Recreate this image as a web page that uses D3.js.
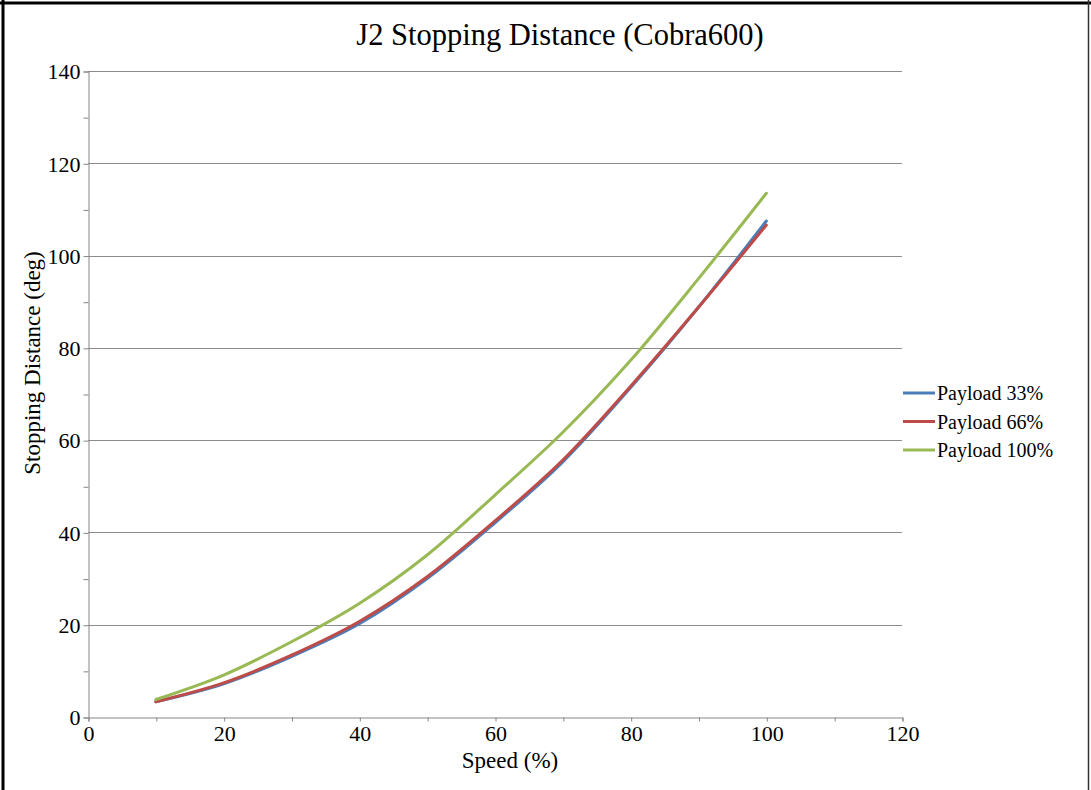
<!DOCTYPE html>
<html><head><meta charset="utf-8">
<script src="https://cdn.jsdelivr.net/npm/d3@7"></script>
<style>body{margin:0;background:#fff;} svg{display:block;}</style>
</head><body>
<svg id="chart" width="1091" height="790"></svg>
<script>
const speeds = [10, 20, 30, 40, 50, 60, 70, 80, 90, 100];
const payload33 = [3.3, 7.2, 13.1, 20.2, 30.0, 42.1, 55.3, 71.4, 88.8, 107.5];
const payload66 = [3.3, 7.4, 13.4, 20.7, 30.4, 42.5, 55.7, 71.7, 88.8, 106.6];
const payload100 = [3.8, 9.1, 16.3, 24.6, 35.1, 48.1, 61.7, 77.3, 95.0, 113.5];
const seriesNames = ["Payload 33%", "Payload 66%", "Payload 100%"];
const seriesColors = ["#4A7EBB", "#BE4B48", "#98B954"];
const xTicks = [0, 20, 40, 60, 80, 100, 120];
const yTicks = [0, 20, 40, 60, 80, 100, 120, 140];
const titleText = "J2 Stopping Distance (Cobra600)";
const xLabel = "Speed (%)";
const yLabel = "Stopping Distance (deg)";

const seriesValues = [payload33, payload66, payload100];
const svg = d3.select("#chart");
const font = "'Liberation Serif', 'DejaVu Serif', serif";
const L = 88, R = 902, T = 71, B = 717;
const x = d3.scaleLinear().domain([0, 120]).range([L, R]);
const y = d3.scaleLinear().domain([0, 140]).range([B, T]);

// frame
svg.append("line").attr("x1", 3).attr("y1", 0).attr("x2", 3).attr("y2", 790).attr("stroke", "#000").attr("stroke-width", 3);
svg.append("line").attr("x1", 0).attr("y1", 3).attr("x2", 1091).attr("y2", 3).attr("stroke", "#000").attr("stroke-width", 3);
svg.append("line").attr("x1", 1088.5).attr("y1", 0).attr("x2", 1088.5).attr("y2", 790).attr("stroke", "#333").attr("stroke-width", 1.5);

// gridlines
svg.append("g").selectAll("line").data(yTicks.filter(d => d > 0)).join("line")
  .attr("x1", L).attr("x2", R).attr("y1", d => Math.round(y(d)) + 0.5).attr("y2", d => Math.round(y(d)) + 0.5)
  .attr("stroke", "#8c8c8c").attr("stroke-width", 1);

// y axis
const yAxis = d3.axisLeft(y).tickValues(d3.range(0, 141, 10)).tickSize(5).tickFormat(d => yTicks.includes(d) ? d : "");
const gy = svg.append("g").attr("transform", `translate(${L + 0.5},0.5)`).call(yAxis);
gy.select(".domain").attr("stroke", "#868686");
gy.selectAll(".tick line").attr("stroke", "#868686");
gy.selectAll("text").attr("font-family", font).attr("font-size", 22).attr("fill", "#000").attr("x", -8).attr("dy", "0.33em");

// x axis
const xAxis = d3.axisBottom(x).tickValues(d3.range(0, 121, 10)).tickSize(4).tickFormat(d => xTicks.includes(d) ? d : "");
const gx = svg.append("g").attr("transform", `translate(0.5,${B + 0.5})`).call(xAxis);
gx.select(".domain").attr("stroke", "#868686");
gx.selectAll(".tick line").attr("stroke", "#868686");
gx.selectAll("text").attr("font-family", font).attr("font-size", 22).attr("fill", "#000").attr("y", 8).attr("dy", "0.71em");

// lines
const line = d3.line().x((d, i) => x(speeds[i])).y(d => y(d)).curve(d3.curveCatmullRom.alpha(0.5));
svg.append("g").selectAll("path").data(seriesValues).join("path")
  .attr("d", d => line(d)).attr("fill", "none")
  .attr("stroke", (d, i) => seriesColors[i]).attr("stroke-width", 3)
  .attr("stroke-linecap", "round").attr("stroke-linejoin", "round");

// titles
svg.append("text").attr("x", 560).attr("y", 45).attr("text-anchor", "middle")
  .attr("font-family", font).attr("font-size", 30.5).attr("fill", "#000").text(titleText);
svg.append("text").attr("x", 510).attr("y", 768).attr("text-anchor", "middle")
  .attr("font-family", font).attr("font-size", 23).attr("fill", "#000").text(xLabel);
svg.append("text").attr("transform", "translate(40,363) rotate(-90)").attr("text-anchor", "middle")
  .attr("font-family", font).attr("font-size", 23).attr("fill", "#000").text(yLabel);

// legend
const leg = svg.append("g").selectAll("g").data(seriesNames).join("g")
  .attr("transform", (d, i) => `translate(903,${393 + i * 28.5})`);
leg.append("line").attr("x1", 0).attr("x2", 32).attr("y1", 0).attr("y2", 0)
  .attr("stroke", (d, i) => seriesColors[i]).attr("stroke-width", 3);
leg.append("text").attr("x", 34).attr("y", 0).attr("dy", "0.35em")
  .attr("font-family", font).attr("font-size", 20).attr("fill", "#000").text(d => d);
</script>
</body></html>
